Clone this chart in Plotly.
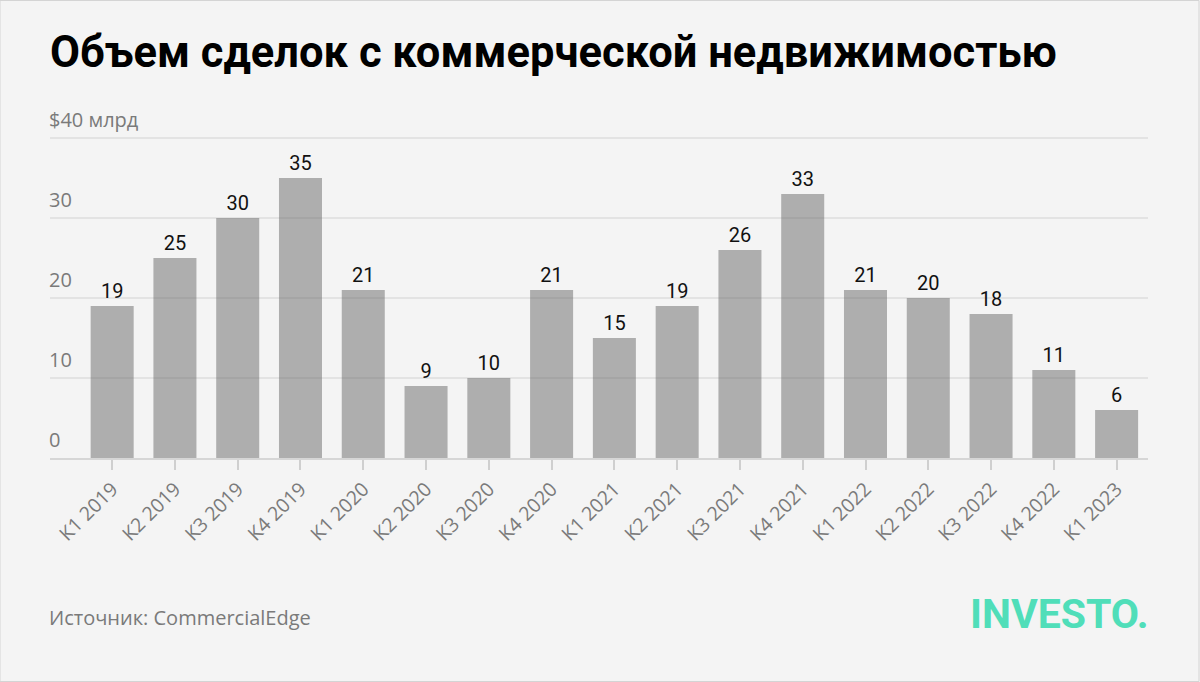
import plotly.graph_objects as go

categories = ["К1 2019", "К2 2019", "К3 2019", "К4 2019", "К1 2020", "К2 2020", "К3 2020",
              "К4 2020", "К1 2021", "К2 2021", "К3 2021", "К4 2021", "К1 2022", "К2 2022",
              "К3 2022", "К4 2022", "К1 2023"]
values = [19, 25, 30, 35, 21, 9, 10, 21, 15, 19, 26, 33, 21, 20, 18, 11, 6]
y_tick_vals = [0, 10, 20, 30, 40]
y_tick_text = ["0", "10", "20", "30", "$40 млрд"]

FONT = "Roboto"
LFONT = "Open Sans"
GRAY = "#7a7a7a"

TOP, BOTTOM = 130, 224
PLOT_H = 682 - TOP - BOTTOM
YMAX = 41  # one extra unit above 40 so the top grid line shows


def py(p):
    return (682 - BOTTOM - p) / PLOT_H


fig = go.Figure()
fig.add_trace(go.Bar(
    x=list(range(len(categories))),
    y=values,
    marker=dict(color="rgba(104,104,104,0.5)", line=dict(width=0)),
    text=values,
    texttemplate="%{text}",
    textposition="outside",
    textfont=dict(family=FONT, size=20, color="#111111"),
    cliponaxis=False,
    width=0.685,
    hoverinfo="skip",
))

annotations = []
for v, t in zip(y_tick_vals, y_tick_text):
    annotations.append(dict(
        x=0, xref="paper", xanchor="left", xshift=-3,
        y=v, yref="y", yanchor="bottom", yshift=3,
        text=t, showarrow=False,
        font=dict(family=LFONT, size=20, color=GRAY),
    ))

annotations.append(dict(
    x=0, xref="paper", xanchor="left", xshift=-2,
    y=py(53), yref="paper", yanchor="middle",
    text="<b>Объем сделок с коммерческой недвижимостью</b>",
    showarrow=False,
    font=dict(family=FONT, size=43.5, color="#000000"),
))
annotations.append(dict(
    x=0, xref="paper", xanchor="left", xshift=-3,
    y=py(617), yref="paper", yanchor="middle",
    text="Источник: CommercialEdge", showarrow=False,
    font=dict(family=LFONT, size=20, color=GRAY),
))
annotations.append(dict(
    x=1, xref="paper", xanchor="right", xshift=3,
    y=py(614), yref="paper", yanchor="middle",
    text="<b>INVESTO.</b>", showarrow=False,
    font=dict(family=FONT, size=41, color="#50deb9"),
))

fig.update_layout(
    width=1200, height=682,
    margin=dict(l=50, r=52, t=TOP, b=BOTTOM, pad=0),
    paper_bgcolor="#f4f4f4",
    plot_bgcolor="#f4f4f4",
    showlegend=False,
    bargap=0.315,
    annotations=annotations,
    xaxis=dict(
        range=[-0.99, 16.5],
        tickmode="array",
        tickvals=list(range(len(categories))),
        ticktext=categories,
        tickangle=-45,
        tickfont=dict(family=LFONT, size=19.5, color=GRAY),
        ticks="outside", ticklen=10, tickwidth=2, tickcolor="#cfcfcf",
        showgrid=False, zeroline=False,
        showline=True, linecolor="#d6d6d6", linewidth=2,
    ),
    yaxis=dict(
        range=[0, YMAX],
        tickvals=y_tick_vals,
        showticklabels=False,
        showgrid=True, gridcolor="#e3e3e3", gridwidth=2,
        zeroline=False,
    ),
    shapes=[dict(
        type="rect", xref="paper", yref="paper",
        x0=-50 / 1098, x1=1 + 51 / 1098, y0=py(681.5), y1=py(0.5),
        line=dict(color="#d4d4d4", width=1), layer="below",
    )],
)

fig.write_html("out.html")
